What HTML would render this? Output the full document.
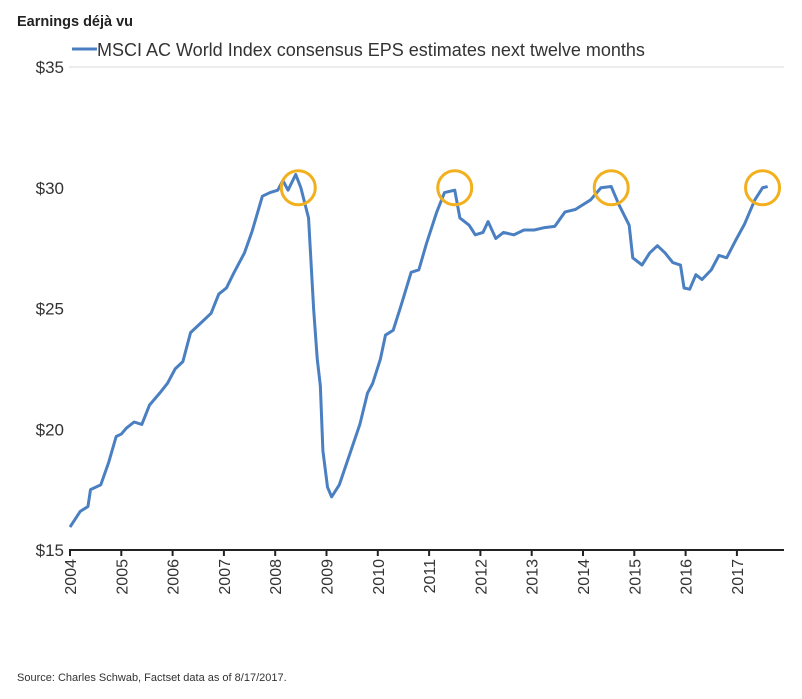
<!DOCTYPE html>
<html><head><meta charset="utf-8"><style>
body{margin:0;background:#fff;width:802px;height:694px;overflow:hidden;font-family:"Liberation Sans",Arial,sans-serif}
</style></head><body>
<svg width="802" height="694">
<text x="17" y="26" font-size="14.5" font-weight="bold" fill="#222">Earnings déjà vu</text>
<g>
<line x1="72" y1="49" x2="97" y2="49" stroke="#4a7fc1" stroke-width="3"/>
<text x="97" y="56" font-size="18" fill="#333">MSCI AC World Index consensus EPS estimates next twelve months</text>
</g>
<g id="grid"></g><g id="yt"></g><g id="xt"></g><g id="ser"></g><g id="circ"></g>
<line x1="69" y1="550" x2="784" y2="550" stroke="#222" stroke-width="2"/>
<text x="17" y="681" font-size="11" fill="#333">Source: Charles Schwab, Factset data as of 8/17/2017.</text>
</svg>
<script>
const yTicks=[15,20,25,30,35];
const yLabels=["$15","$20","$25","$30","$35"];
const years=[2004,2005,2006,2007,2008,2009,2010,2011,2012,2013,2014,2015,2016,2017];
const dates=[2004.0,2004.2,2004.35,2004.4,2004.6,2004.75,2004.9,2005.0,2005.1,2005.25,2005.4,2005.55,2005.75,2005.9,2006.05,2006.2,2006.35,2006.55,2006.75,2006.9,2007.05,2007.2,2007.4,2007.55,2007.75,2007.9,2008.05,2008.15,2008.25,2008.4,2008.5,2008.65,2008.75,2008.82,2008.88,2008.93,2009.02,2009.1,2009.25,2009.45,2009.65,2009.8,2009.9,2010.05,2010.15,2010.3,2010.45,2010.65,2010.8,2010.95,2011.15,2011.3,2011.5,2011.6,2011.78,2011.9,2012.05,2012.15,2012.3,2012.45,2012.65,2012.85,2013.05,2013.25,2013.45,2013.65,2013.85,2014.15,2014.35,2014.55,2014.7,2014.9,2014.97,2015.15,2015.3,2015.45,2015.6,2015.75,2015.9,2015.97,2016.08,2016.2,2016.32,2016.5,2016.65,2016.8,2016.97,2017.15,2017.35,2017.5,2017.6];
const eps=[15.95,16.6,16.8,17.5,17.7,18.6,19.7,19.8,20.05,20.3,20.2,21.0,21.5,21.9,22.5,22.8,24.0,24.4,24.8,25.6,25.85,26.5,27.3,28.2,29.65,29.8,29.9,30.3,29.9,30.55,30.0,28.75,24.95,22.9,21.8,19.1,17.6,17.2,17.7,18.95,20.2,21.5,21.9,22.9,23.9,24.1,25.1,26.5,26.6,27.7,29.0,29.8,29.9,28.75,28.45,28.05,28.15,28.6,27.9,28.15,28.05,28.25,28.25,28.35,28.4,29.0,29.1,29.5,30.0,30.05,29.3,28.45,27.1,26.8,27.3,27.6,27.3,26.9,26.8,25.85,25.8,26.4,26.2,26.6,27.2,27.1,27.8,28.5,29.5,30.0,30.05];
const peakDates=[2008.45,2011.5,2014.55,2017.5];
const peakVals=[30,30,30,30];
const NS="http://www.w3.org/2000/svg";
const X=d=>70+(d-2004)*51.3, Y=v=>550-(v-15)*24.15;
function mk(t,a,p){const e=document.createElementNS(NS,t);for(const k in a)e.setAttribute(k,a[k]);p.appendChild(e);return e;}
const grid=document.getElementById('grid'),yt=document.getElementById('yt'),xt=document.getElementById('xt');
yTicks.forEach((v,i)=>{
 if(v===35){const g=mk('line',{x1:69,x2:784,y1:Y(v),y2:Y(v),stroke:'#e6e6e6','stroke-width':1.5},grid);
 
 }
 const t=mk('text',{x:64,y:Y(v)+6,'text-anchor':'end','font-size':17,fill:'#333'},yt);t.textContent=yLabels[i];
 
 
});
years.forEach(y=>{
 const l=mk('line',{x1:X(y),x2:X(y),y1:550,y2:556,stroke:'#222','stroke-width':2},xt);
 
 
 const t=mk('text',{x:0,y:0,'text-anchor':'end','font-size':16,fill:'#333',transform:`translate(${X(y)+6},559) rotate(-90)`},xt);t.textContent=y;
 
 
});
const p=mk('polyline',{points:dates.map((d,i)=>X(d)+','+Y(eps[i])).join(' '),fill:'none',stroke:'#4a7fc1','stroke-width':3,'stroke-linejoin':'round'},document.getElementById('ser'));


peakDates.forEach((d,i)=>{
 const c=mk('circle',{cx:X(d),cy:Y(peakVals[i]),r:17,fill:'none',stroke:'#f2b01e','stroke-width':3},document.getElementById('circ'));
 
 
});
</script>
</body></html>
